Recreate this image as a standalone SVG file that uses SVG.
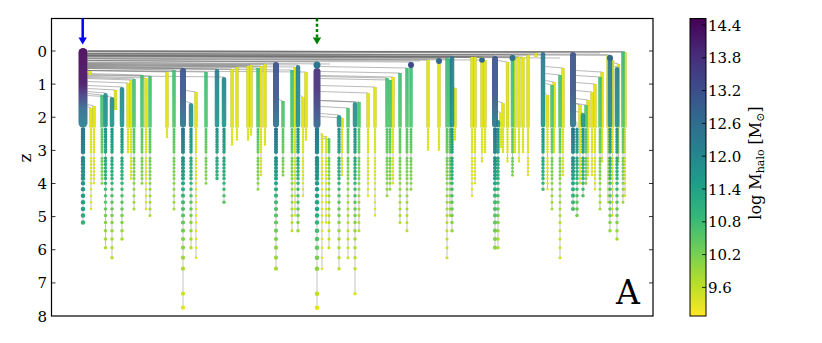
<svg xmlns="http://www.w3.org/2000/svg" width="822" height="343" viewBox="0 0 822 343">
<defs>
<linearGradient id="gP" gradientUnits="userSpaceOnUse" x1="0" y1="48" x2="0" y2="128"><stop offset="0" stop-color="#440154"/><stop offset="0.45" stop-color="#471365"/><stop offset="0.6" stop-color="#433e85"/><stop offset="0.75" stop-color="#31688e"/><stop offset="1" stop-color="#26828e"/></linearGradient>
<linearGradient id="gP2" gradientUnits="userSpaceOnUse" x1="0" y1="48" x2="0" y2="128"><stop offset="0" stop-color="#472d7b"/><stop offset="0.5" stop-color="#472d7b"/><stop offset="0.75" stop-color="#3e4989"/><stop offset="1" stop-color="#31688e"/></linearGradient>
<linearGradient id="gB" gradientUnits="userSpaceOnUse" x1="0" y1="48" x2="0" y2="128"><stop offset="0" stop-color="#3b528b"/><stop offset="0.55" stop-color="#3b528b"/><stop offset="1" stop-color="#2a788e"/></linearGradient>
<linearGradient id="gT" gradientUnits="userSpaceOnUse" x1="0" y1="48" x2="0" y2="128"><stop offset="0" stop-color="#2d708e"/><stop offset="1" stop-color="#1f968b"/></linearGradient>
<linearGradient id="gG" gradientUnits="userSpaceOnUse" x1="0" y1="48" x2="0" y2="128"><stop offset="0" stop-color="#35b779"/><stop offset="1" stop-color="#52c569"/></linearGradient>
<linearGradient id="hP" gradientUnits="userSpaceOnUse" x1="0" y1="129" x2="0" y2="308"><stop offset="0" stop-color="#2a788e"/><stop offset="0.45" stop-color="#22a785"/><stop offset="0.65" stop-color="#5ec962"/><stop offset="0.9" stop-color="#b5de2b"/><stop offset="1" stop-color="#e5e419"/></linearGradient>
<linearGradient id="hB" gradientUnits="userSpaceOnUse" x1="0" y1="129" x2="0" y2="308"><stop offset="0" stop-color="#2c728e"/><stop offset="0.3" stop-color="#23a983"/><stop offset="0.6" stop-color="#7ad151"/><stop offset="1" stop-color="#e5e419"/></linearGradient>
<linearGradient id="hT" gradientUnits="userSpaceOnUse" x1="0" y1="129" x2="0" y2="308"><stop offset="0" stop-color="#22938b"/><stop offset="0.3" stop-color="#35b779"/><stop offset="0.6" stop-color="#a2da37"/><stop offset="1" stop-color="#f0e51c"/></linearGradient>
<linearGradient id="hG" gradientUnits="userSpaceOnUse" x1="0" y1="129" x2="0" y2="308"><stop offset="0" stop-color="#52c569"/><stop offset="0.3" stop-color="#86d549"/><stop offset="0.6" stop-color="#c2df23"/><stop offset="1" stop-color="#f0e51c"/></linearGradient>
<linearGradient id="viridis" x1="0" y1="0" x2="0" y2="1"><stop offset="0" stop-color="#440154"/><stop offset="0.111" stop-color="#482878"/><stop offset="0.222" stop-color="#3e4989"/><stop offset="0.333" stop-color="#31688e"/><stop offset="0.444" stop-color="#26828e"/><stop offset="0.556" stop-color="#1f9e89"/><stop offset="0.667" stop-color="#35b779"/><stop offset="0.778" stop-color="#6ece58"/><stop offset="0.889" stop-color="#b5de2b"/><stop offset="1" stop-color="#fde725"/></linearGradient>
<path id="ybars" d="M90 71V75M91 108V127.5M94 106V127.5M115.5 90V110M128 83V127.5M131 80V127.5M146 78V127.5M167 72V127.5M196 92V127.5M232 69V127.5M237 67V127.5M248 66V127.5M251 65V127.5M261 66V127.5M265 64V127.5M295 67V127.5M303 97V127.5M306 72V127.5M342 118V127.5M368 93V127.5M375 87V127.5M393 77V127.5M428 60V127.5M439 58V127.5M455 88V127.5M472 57V127.5M475 57V127.5M482 57V127.5M485 60V127.5M501 113V127.5M503 103V127.5M507.5 62V127.5M515 57V127.5M519 57V127.5M523 57V127.5M528 55V127.5M536 53V57M547.5 95V127.5M554 82V127.5M563 68V127.5M580 105V127.5M588 100V127.5M592 92V127.5M595 84V127.5M602 72V127.5M608 55V127.5M612.5 60V127.5M618.5 64V127.5M625 52V127.5"/>
</defs>
<style>
text{font-family:"DejaVu Serif","Liberation Serif",serif;fill:#000}
.tl{font-size:15px;text-anchor:end}
.cl{font-size:15px}
.m{stroke:#6e6e6e;stroke-width:.8;opacity:.6}
.s{fill:none;stroke:#b4b4b4;stroke-width:1;opacity:.8}
.b{fill:none;opacity:.92}
.r{stroke-linecap:round}
.bP{stroke:url(#gP);stroke-width:9}
.bP2{stroke:url(#gP2);stroke-width:7}
.bB{stroke:url(#gB);stroke-width:6}
.bT{stroke:url(#gT);stroke-width:4.5}
.bG{stroke:url(#gG);stroke-width:3.6}
.bYo{fill:none;stroke:#bfc42a;stroke-width:3.4;opacity:.85}
.bY{fill:none;stroke:#e4e519;stroke-width:2.2}
.d{fill:none;stroke-linecap:round;stroke-dasharray:0.01 2.49 0.01 2.49 0.01 2.49 0.01 2.49 0.01 2.49 0.01 2.49 0.01 2.49 0.01 2.49 0.01 2.49 0.01 6.29 0.01 2.99 0.01 3.19 0.01 3.49 0.01 3.49 0.01 3.49 0.01 3.49 0.01 4.79 0.01 5.99 0.01 6.39 0.01 6.59 0.01 6.69 0.01 6.49 0.01 6.99 0.01 8.19 0.01 8.29 0.01 8.69 0.01 9.99 0.01 10.99 0.01 24.99 0.01 13.99 0.01 200}
.dP{stroke:url(#hP);stroke-width:4.6}
.dB{stroke:url(#hB);stroke-width:4.2}
.dT{stroke:url(#hT);stroke-width:3.6}
.dG{stroke:url(#hG);stroke-width:3.1}
.dY{stroke:#dbe31a;stroke-width:2.6}
.ax{fill:none;stroke:#000;stroke-width:1.2}
.tk{stroke:#000;stroke-width:.8}
</style>
<rect width="822" height="343" fill="#fff"/>

<g id="mergers">
<line class="m" x1="87.5" y1="51.2" x2="625" y2="51.6"/>
<line class="m" x1="87.5" y1="52.2" x2="600" y2="53"/>
<line class="m" x1="87.5" y1="56" x2="560" y2="58"/>
<line class="m" x1="87.5" y1="59" x2="420" y2="61"/>
<line class="m" x1="87.5" y1="62" x2="330" y2="64"/>
<line class="m" x1="87.5" y1="69.5" x2="90" y2="71"/>
<line class="m" x1="87.5" y1="106.5" x2="91" y2="108"/>
<line class="m" x1="87.5" y1="104.5" x2="94" y2="106"/>
<line class="m" x1="87.5" y1="93.5" x2="102" y2="95"/>
<line class="m" x1="87.5" y1="91.5" x2="105.5" y2="93"/>
<line class="m" x1="87.5" y1="95.5" x2="112" y2="97"/>
<line class="m" x1="87.5" y1="88.5" x2="115.5" y2="90"/>
<line class="m" x1="87.5" y1="85.5" x2="122" y2="87"/>
<line class="m" x1="87.5" y1="81.5" x2="128" y2="83"/>
<line class="m" x1="87.5" y1="78.5" x2="131" y2="80"/>
<line class="m" x1="87.5" y1="77.5" x2="134" y2="79"/>
<line class="m" x1="87.5" y1="73.5" x2="142" y2="75"/>
<line class="m" x1="87.5" y1="76.5" x2="146" y2="78"/>
<line class="m" x1="87.5" y1="74.5" x2="150" y2="76"/>
<line class="m" x1="87.5" y1="70.5" x2="167" y2="72"/>
<line class="m" x1="87.5" y1="68.5" x2="174" y2="70"/>
<line class="m" x1="87.5" y1="66.5" x2="183" y2="68"/>
<line class="m" x1="87.5" y1="70.5" x2="206" y2="72"/>
<line class="m" x1="87.5" y1="67.5" x2="217" y2="69"/>
<line class="m" x1="87.5" y1="75.5" x2="224" y2="77"/>
<line class="m" x1="87.5" y1="67.5" x2="232" y2="69"/>
<line class="m" x1="87.5" y1="65.5" x2="237" y2="67"/>
<line class="m" x1="87.5" y1="64.5" x2="248" y2="66"/>
<line class="m" x1="87.5" y1="63.5" x2="251" y2="65"/>
<line class="m" x1="87.5" y1="66.5" x2="258" y2="68"/>
<line class="m" x1="87.5" y1="64.5" x2="261" y2="66"/>
<line class="m" x1="87.5" y1="62.5" x2="265" y2="64"/>
<line class="m" x1="87.5" y1="60.5" x2="276" y2="62"/>
<line class="m" x1="87.5" y1="68.5" x2="292" y2="70"/>
<line class="m" x1="87.5" y1="65.5" x2="295" y2="67"/>
<line class="m" x1="87.5" y1="63.5" x2="298" y2="65"/>
<line class="m" x1="87.5" y1="70.5" x2="306" y2="72"/>
<line class="m" x1="87.5" y1="60.5" x2="317" y2="62"/>
<line class="m" x1="87.5" y1="60.5" x2="411" y2="62"/>
<line class="m" x1="87.5" y1="58.5" x2="428" y2="60"/>
<line class="m" x1="87.5" y1="56.5" x2="439" y2="58"/>
<line class="m" x1="87.5" y1="56.5" x2="447" y2="58"/>
<line class="m" x1="87.5" y1="57.5" x2="450" y2="59"/>
<line class="m" x1="87.5" y1="54.5" x2="452" y2="56"/>
<line class="m" x1="87.5" y1="55.5" x2="472" y2="57"/>
<line class="m" x1="87.5" y1="55.5" x2="475" y2="57"/>
<line class="m" x1="87.5" y1="55.5" x2="482" y2="57"/>
<line class="m" x1="87.5" y1="58.5" x2="485" y2="60"/>
<line class="m" x1="87.5" y1="54.5" x2="495" y2="56"/>
<line class="m" x1="87.5" y1="53.5" x2="512.5" y2="55"/>
<line class="m" x1="87.5" y1="55.5" x2="515" y2="57"/>
<line class="m" x1="87.5" y1="55.5" x2="519" y2="57"/>
<line class="m" x1="87.5" y1="55.5" x2="523" y2="57"/>
<line class="m" x1="87.5" y1="53.5" x2="528" y2="55"/>
<line class="m" x1="87.5" y1="51.5" x2="536" y2="53"/>
<line class="m" x1="87.5" y1="51" x2="543" y2="52"/>
<line class="m" x1="87.5" y1="51" x2="573" y2="52"/>
<line class="m" x1="87.5" y1="53.5" x2="608" y2="55"/>
<line class="m" x1="87.5" y1="53.5" x2="610" y2="55"/>
<line class="m" x1="87.5" y1="51" x2="623" y2="52"/>
<line class="m" x1="87.5" y1="51" x2="625" y2="52"/>
<line class="m" x1="186" y1="101.5" x2="191" y2="103"/>
<line class="m" x1="186" y1="90.5" x2="196" y2="92"/>
<line class="m" x1="279" y1="99.5" x2="283" y2="101"/>
<line class="m" x1="300.5" y1="95.5" x2="303" y2="97"/>
<line class="m" x1="320.5" y1="133" x2="322" y2="134.5"/>
<line class="m" x1="320.5" y1="135.5" x2="326" y2="137"/>
<line class="m" x1="320.5" y1="138" x2="329" y2="139.5"/>
<line class="m" x1="320.5" y1="113.5" x2="339" y2="115"/>
<line class="m" x1="320.5" y1="116.5" x2="342" y2="118"/>
<line class="m" x1="320.5" y1="106.5" x2="348" y2="108"/>
<line class="m" x1="320.5" y1="100.5" x2="355" y2="102"/>
<line class="m" x1="320.5" y1="100.5" x2="359" y2="102"/>
<line class="m" x1="320.5" y1="91.5" x2="368" y2="93"/>
<line class="m" x1="320.5" y1="85.5" x2="375" y2="87"/>
<line class="m" x1="320.5" y1="76.5" x2="387" y2="78"/>
<line class="m" x1="320.5" y1="78.5" x2="390" y2="80"/>
<line class="m" x1="320.5" y1="75.5" x2="393" y2="77"/>
<line class="m" x1="320.5" y1="71.5" x2="400" y2="73"/>
<line class="m" x1="320.5" y1="66.5" x2="407" y2="68"/>
<line class="m" x1="452" y1="86.5" x2="455" y2="88"/>
<line class="m" x1="498" y1="111.5" x2="501" y2="113"/>
<line class="m" x1="498" y1="101.5" x2="503" y2="103"/>
<line class="m" x1="498" y1="60.5" x2="507.5" y2="62"/>
<line class="m" x1="545.5" y1="93.5" x2="547.5" y2="95"/>
<line class="m" x1="545.5" y1="83.5" x2="552" y2="85"/>
<line class="m" x1="545.5" y1="80.5" x2="554" y2="82"/>
<line class="m" x1="545.5" y1="73.5" x2="560" y2="75"/>
<line class="m" x1="545.5" y1="66.5" x2="563" y2="68"/>
<line class="m" x1="576" y1="121.5" x2="577" y2="123"/>
<line class="m" x1="576" y1="103.5" x2="580" y2="105"/>
<line class="m" x1="576" y1="111.5" x2="583" y2="113"/>
<line class="m" x1="576" y1="103.5" x2="586" y2="105"/>
<line class="m" x1="576" y1="98.5" x2="588" y2="100"/>
<line class="m" x1="576" y1="90.5" x2="592" y2="92"/>
<line class="m" x1="576" y1="82.5" x2="595" y2="84"/>
<line class="m" x1="576" y1="75.5" x2="600" y2="77"/>
<line class="m" x1="576" y1="70.5" x2="602" y2="72"/>
<line class="m" x1="612" y1="58.5" x2="612.5" y2="60"/>
<line class="m" x1="612" y1="65.5" x2="617" y2="67"/>
<line class="m" x1="612" y1="62.5" x2="618.5" y2="64"/>
</g>

<g id="stems">
<path class="s" d="M83 128V222.5M91 128V209M94 128V183.3M102 128V183.3M105.5 128V247.7M112 128V257.7M122 128V239M128 128V152M131 128V178.5M134 128V209M142 128V183.3M146 128V209M150 128V215.5M167 128V137M174 128V209M183 128V307.7M191 128V247.7M196 128V257.7M206 128V183.3M217 128V178.5M224 128V202.3M232 128V144.5M237 128V139.5M248 128V139.5M251 128V134.5M258 128V189.3M261 128V175M265 128V144.5M276 128V268.7M283 128V175M292 128V230.7M295 128V215.5M298 128V230.7M303 128V195.7M306 128V139.5M317 128V307.7M322 134.5V268.7M326 137V222.5M329 139.5V247.7M339 128V268.7M342 128V175M348 128V257.7M355 128V293.7M359 128V230.7M368 128V195.7M375 128V215.5M387 128V195.7M390 128V189.3M393 128V183.3M400 128V222.5M407 128V230.7M411 128V189.3M428 128V149.5M439 128V149.5M447 128V257.7M450 128V215.5M452 128V230.7M455 128V139.5M472 128V195.7M475 128V183.3M482 128V161.3M485 128V152M495 128V247.7M498 128V247.7M501 128V147M503 128V152M507.5 128V161.3M512.5 128V175M515 128V152M519 128V161.3M523 128V152M528 128V175M543 128V189.3M547.5 128V189.3M552 128V209M554 128V152M560 128V257.7M563 128V175M573 128V209M577 123V215.5M580 128V183.3M583 128V195.7M586 128V183.3M588 128V175M592 128V175M595 128V189.3M600 128V209M602 128V161.3M608 128V202.3M610 128V230.7M612.5 128V215.5M617 128V239M618.5 128V161.3M623 128V202.3M625 128V195.7"/>
</g>

<g id="bars">
<use href="#ybars" class="bYo"/>
<use href="#ybars" class="bY"/>
<path class="b bG" d="M102 95V127.5M134 79V127.5M142 75V127.5M150 76V127.5M174 70V127.5M206 72V127.5M258 68V127.5M283 101V127.5M292 70V127.5M348 108V127.5M359 102V127.5M387 78V127.5M390 80V127.5M400 73V127.5M407 68V127.5M411 62V127.5M447 58V127.5M450 59V127.5M512.5 55V127.5M552 85V127.5M560 75V127.5M586 105V127.5M600 77V127.5M623 52V127.5"/>
<path class="b r bT" d="M105.5 95.25V125.25M112 99.25V125.25M122 89.25V125.25M191 105.25V125.25M217 71.25V125.25M224 79.25V125.25M298 67.25V125.25M339 117.25V125.25M355 104.25V125.25M452 58.25V125.25M498 122.25V125.25M543 54.25V125.25M583 115.25V125.25M610 57.25V125.25M617 69.25V125.25"/>
<path class="b r bB" d="M183 71V124.5M276 65V124.5M495 59V124.5M573 55V124.5"/>
<path class="b r bP2" d="M317 71.5V124.5"/>
<path class="b r bP" d="M83 52.5V123"/>
<circle cx="317" cy="65" r="3.5" fill="#2a788e"/>
<circle cx="411" cy="65" r="3" fill="#3e4a89"/>
<circle cx="439" cy="61" r="3" fill="#31688e"/>
<circle cx="482" cy="60" r="2.8" fill="#31688e"/>
<circle cx="512.5" cy="58" r="3" fill="#2c728e"/>
<circle cx="610" cy="58" r="3" fill="#31688e"/>
</g>

<g id="dots">
<path class="d dY" d="M91 129.5V209.05"/>
<path class="d dY" d="M94 129.5V183.35"/>
<path class="d dY" d="M128 129.5V152.05"/>
<path class="d dY" d="M131 129.5V178.55"/>
<path class="d dY" d="M146 129.5V209.05"/>
<path class="d dY" d="M167 129.5V137.05"/>
<path class="d dY" d="M196 129.5V257.75"/>
<path class="d dY" d="M232 129.5V144.55"/>
<path class="d dY" d="M237 129.5V139.55"/>
<path class="d dY" d="M248 129.5V139.55"/>
<path class="d dY" d="M251 129.5V134.55"/>
<path class="d dY" d="M261 129.5V175.05"/>
<path class="d dY" d="M265 129.5V144.55"/>
<path class="d dY" d="M295 129.5V215.55"/>
<path class="d dY" d="M303 129.5V195.75"/>
<path class="d dY" d="M306 129.5V139.55"/>
<path class="d dY" d="M322 134.5V268.75" style="stroke-dashoffset:5"/>
<path class="d dY" d="M326 137V222.55" style="stroke-dashoffset:7.5"/>
<path class="d dY" d="M342 129.5V175.05"/>
<path class="d dY" d="M368 129.5V195.75"/>
<path class="d dY" d="M375 129.5V215.55"/>
<path class="d dY" d="M393 129.5V183.35"/>
<path class="d dY" d="M428 129.5V149.55"/>
<path class="d dY" d="M439 129.5V149.55"/>
<path class="d dY" d="M455 129.5V139.55"/>
<path class="d dY" d="M472 129.5V195.75"/>
<path class="d dY" d="M475 129.5V183.35"/>
<path class="d dY" d="M482 129.5V161.35"/>
<path class="d dY" d="M485 129.5V152.05"/>
<path class="d dY" d="M501 129.5V147.05"/>
<path class="d dY" d="M503 129.5V152.05"/>
<path class="d dY" d="M507.5 129.5V161.35"/>
<path class="d dY" d="M515 129.5V152.05"/>
<path class="d dY" d="M519 129.5V161.35"/>
<path class="d dY" d="M523 129.5V152.05"/>
<path class="d dY" d="M528 129.5V175.05"/>
<path class="d dY" d="M547.5 129.5V189.35"/>
<path class="d dY" d="M554 129.5V152.05"/>
<path class="d dY" d="M563 129.5V175.05"/>
<path class="d dY" d="M580 129.5V183.35"/>
<path class="d dY" d="M588 129.5V175.05"/>
<path class="d dY" d="M592 129.5V175.05"/>
<path class="d dY" d="M595 129.5V189.35"/>
<path class="d dY" d="M602 129.5V161.35"/>
<path class="d dY" d="M608 129.5V202.35"/>
<path class="d dY" d="M612.5 129.5V215.55"/>
<path class="d dY" d="M618.5 129.5V161.35"/>
<path class="d dY" d="M625 129.5V195.75"/>
<path class="d dG" d="M102 129.5V183.35"/>
<path class="d dG" d="M134 129.5V209.05"/>
<path class="d dG" d="M142 129.5V183.35"/>
<path class="d dG" d="M150 129.5V215.55"/>
<path class="d dG" d="M174 129.5V209.05"/>
<path class="d dG" d="M206 129.5V183.35"/>
<path class="d dG" d="M258 129.5V189.35"/>
<path class="d dG" d="M283 129.5V175.05"/>
<path class="d dG" d="M292 129.5V230.75"/>
<path class="d dG" d="M329 139.5V247.75" style="stroke-dashoffset:10"/>
<path class="d dG" d="M348 129.5V257.75"/>
<path class="d dG" d="M359 129.5V230.75"/>
<path class="d dG" d="M387 129.5V195.75"/>
<path class="d dG" d="M390 129.5V189.35"/>
<path class="d dG" d="M400 129.5V222.55"/>
<path class="d dG" d="M407 129.5V230.75"/>
<path class="d dG" d="M411 129.5V189.35"/>
<path class="d dG" d="M447 129.5V257.75"/>
<path class="d dG" d="M450 129.5V215.55"/>
<path class="d dG" d="M512.5 129.5V175.05"/>
<path class="d dG" d="M552 129.5V209.05"/>
<path class="d dG" d="M560 129.5V257.75"/>
<path class="d dG" d="M586 129.5V183.35"/>
<path class="d dG" d="M600 129.5V209.05"/>
<path class="d dG" d="M623 129.5V202.35"/>
<path class="d dT" d="M105.5 129.5V247.75"/>
<path class="d dT" d="M112 129.5V257.75"/>
<path class="d dT" d="M122 129.5V239.05"/>
<path class="d dT" d="M191 129.5V247.75"/>
<path class="d dT" d="M217 129.5V178.55"/>
<path class="d dT" d="M224 129.5V202.35"/>
<path class="d dT" d="M298 129.5V230.75"/>
<path class="d dT" d="M339 129.5V268.75"/>
<path class="d dT" d="M355 129.5V293.75"/>
<path class="d dT" d="M452 129.5V230.75"/>
<path class="d dT" d="M498 129.5V247.75"/>
<path class="d dT" d="M543 129.5V189.35"/>
<path class="d dT" d="M577 129.5V215.55"/>
<path class="d dT" d="M583 129.5V195.75"/>
<path class="d dT" d="M610 129.5V230.75"/>
<path class="d dT" d="M617 129.5V239.05"/>
<path class="d dB" d="M183 129.5V307.75"/>
<path class="d dB" d="M276 129.5V268.75"/>
<path class="d dB" d="M495 129.5V247.75"/>
<path class="d dB" d="M573 129.5V209.05"/>
<path class="d dP" d="M317 129.5V307.75"/>
<path class="d dP" d="M83 129.5V222.55"/>
</g>

<g id="axes">
<rect class="ax" x="51.5" y="18.5" width="601.5" height="297.5"/>
<path class="tk" d="M51.5 51H55.5M51.5 84.1H55.5M51.5 117.25H55.5M51.5 150.4H55.5M51.5 183.5H55.5M51.5 216.6H55.5M51.5 249.75H55.5M51.5 282.9H55.5M649 51H653M649 84.1H653M649 117.25H653M649 150.4H653M649 183.5H653M649 216.6H653M649 249.75H653M649 282.9H653"/>
<text class="tl" x="47" y="56.5">0</text>
<text class="tl" x="47" y="89.6">1</text>
<text class="tl" x="47" y="122.75">2</text>
<text class="tl" x="47" y="155.9">3</text>
<text class="tl" x="47" y="189">4</text>
<text class="tl" x="47" y="222.1">5</text>
<text class="tl" x="47" y="255.25">6</text>
<text class="tl" x="47" y="288.4">7</text>
<text class="tl" x="47" y="321.5">8</text>
<text transform="translate(31,158) rotate(-90)" font-size="17" text-anchor="middle">z</text>
<text x="628" y="303.5" font-size="33" text-anchor="middle">A</text>
</g>

<g id="arrows">
<line x1="82.7" y1="18.5" x2="82.7" y2="38.5" stroke="#0000ff" stroke-width="2.5"/>
<polygon points="78.5,37.5 86.9,37.5 82.7,44.5" fill="#0000ff"/>
<line x1="317" y1="18.5" x2="317" y2="38" stroke="#008000" stroke-width="2.5" stroke-dasharray="3 2.3"/>
<polygon points="312.8,37.5 321.2,37.5 317,44.5" fill="#008000"/>
</g>

<g id="colorbar">
<rect x="690" y="18.5" width="16" height="297.5" fill="url(#viridis)" stroke="#000" stroke-width="1"/>
<path class="tk" d="M702 25H706M702 57.8H706M702 90.6H706M702 123.4H706M702 156.2H706M702 189H706M702 221.8H706M702 254.6H706M702 287.4H706"/>
<text class="cl" x="708" y="30.5">14.4</text>
<text class="cl" x="708" y="63.3">13.8</text>
<text class="cl" x="708" y="96.1">13.2</text>
<text class="cl" x="708" y="128.9">12.6</text>
<text class="cl" x="708" y="161.7">12.0</text>
<text class="cl" x="708" y="194.5">11.4</text>
<text class="cl" x="708" y="227.3">10.8</text>
<text class="cl" x="708" y="260.1">10.2</text>
<text class="cl" x="708" y="292.9">9.6</text>
<text transform="translate(761,163) rotate(-90)" font-size="16" text-anchor="middle">log M<tspan font-size="11" dy="3">halo</tspan><tspan dy="-3"> [M</tspan><tspan font-size="11" dy="3">⊙</tspan><tspan dy="-3">]</tspan></text>
</g>
</svg>
